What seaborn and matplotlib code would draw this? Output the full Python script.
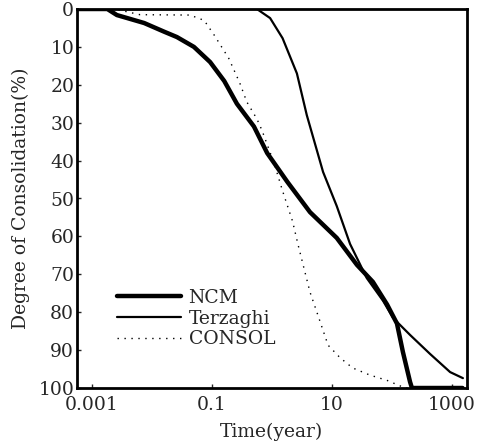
import matplotlib
matplotlib.use("Agg")
import matplotlib.pyplot as plt
import seaborn as sns
import pandas as pd

sns.set_theme(style="white")
plt.rcParams['font.family'] = ['DejaVu Serif']

# time in years, degree of consolidation in %
ncm_t = [0.00056, 0.0018, 0.0026, 0.0074, 0.016, 0.026, 0.05, 0.093, 0.16, 0.26,
         0.5, 0.83, 1.8, 4.3, 12, 26, 48, 83, 121, 152, 200, 215, 1500]
ncm_u = [0, 0, 1.6, 3.7, 6, 7.4, 10, 14, 19, 25,
         31, 38, 45.6, 53.6, 60.4, 67.5, 72, 78, 83, 90.5, 98.4, 100, 100]

terz_t = [0.00056, 0.56, 0.93, 1.5, 2.6, 3.8, 7.1, 12, 20, 38, 71, 104, 200, 430, 930, 1520]
terz_u = [0, 0, 2.4, 7.7, 17, 28, 43, 52, 62, 71, 77, 81.5, 86, 91, 95.8, 97.4]

consol_t = [0.00056, 0.0024, 0.0063, 0.043, 0.074, 0.11, 0.19, 0.29, 0.38, 0.56, 0.68, 1.1,
            1.5, 2.2, 2.7, 3.3, 4.3, 5.6, 8.6, 13.6, 22, 43, 83, 165, 1500]
consol_u = [0, 0, 1.5, 1.6, 3, 7, 13, 19.5, 24.5, 29, 32, 41,
            48, 56, 62, 67.5, 74.7, 80, 88.7, 92, 94.7, 96.6, 98, 100, 100]

fig = plt.figure(figsize=(4.83, 4.44), dpi=100)
ax = fig.add_axes([77/483, 1-388/444, 390/483, 379/444])

sns.lineplot(x=ncm_t, y=ncm_u, ax=ax, color='black', lw=3.2, label='NCM')
sns.lineplot(x=terz_t, y=terz_u, ax=ax, color='black', lw=1.6, label='Terzaghi')
sns.lineplot(x=consol_t, y=consol_u, ax=ax, color='black', lw=1.0,
             linestyle=(0, (1, 4)), label='CONSOL')

ax.set_xscale('log')
ax.set_xlim(10**-3.25, 10**3.25)
ax.set_ylim(100, 0)
ax.set_xticks([0.001, 0.1, 10, 1000])
ax.set_xticklabels(['0.001', '0.1', '10', '1000'])
ax.set_yticks(range(0, 101, 10))
ax.tick_params(axis='both', which='major', direction='in', length=3, width=1,
               labelsize=13.5, pad=2, bottom=True, left=True)
ax.tick_params(axis='x', which='major', pad=6)
ax.tick_params(axis='x', which='minor', direction='in', length=2, width=0.8, bottom=True)
for s in ax.spines.values():
    s.set_color('black')
    s.set_linewidth(2)

ax.set_xlabel('Time(year)', fontsize=13.5, labelpad=6)
ax.set_ylabel('Degree of Consolidation(%)', fontsize=13.5, labelpad=6)

leg = ax.legend(loc='lower left', bbox_to_anchor=(0.06, 0.06), frameon=False,
                fontsize=13.5, handlelength=3.4, handletextpad=0.4, labelspacing=0.15)

fig.savefig('out.png', dpi=100)
